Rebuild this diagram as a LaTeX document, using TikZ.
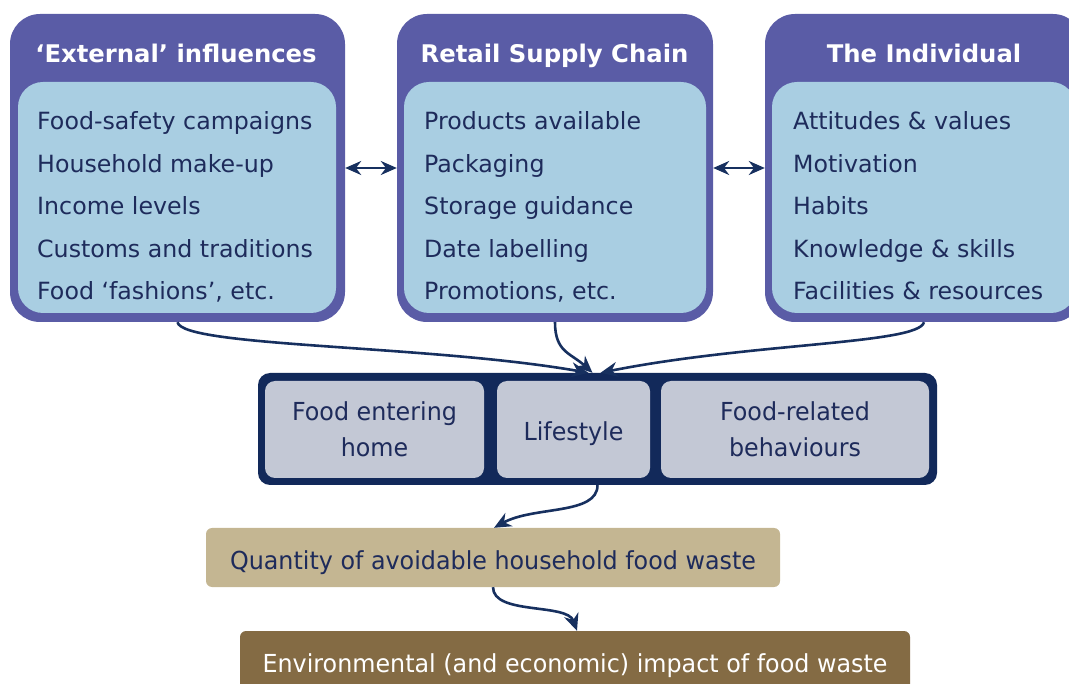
\documentclass[tikz,border=0pt]{standalone}
\usepackage{fontspec}
\setmainfont{DejaVu Sans}
\newfontfamily\tallfont[FakeStretch=0.96]{DejaVu Sans}
\usetikzlibrary{arrows.meta,positioning}

\definecolor{groupfill}{HTML}{5A5CA6}
\definecolor{listfill}{HTML}{A9CEE2}
\definecolor{linknavy}{HTML}{17305F}
\definecolor{bandnavy}{HTML}{12295A}
\definecolor{textnavy}{HTML}{1E2B5B}
\definecolor{factorfill}{HTML}{C3C8D5}
\definecolor{wastefill}{HTML}{C4B692}
\definecolor{impactfill}{HTML}{846B44}

\newcommand\lowered[2]{\raisebox{-#1}[\height][\depth]{#2}}

\tikzset{
  group/.style={fill=groupfill, rounded corners=30pt, minimum height=308pt, inner sep=0pt},
  listbox/.style={fill=listfill, rounded corners=25pt, minimum height=231pt, inner sep=0pt},
  grouptitle/.style={anchor=base, text=white, inner sep=0pt, font=\fontsize{24.3}{28}\selectfont\bfseries},
  item/.style={anchor=base west, text=textnavy, inner sep=0pt, font=\fontsize{23.7}{28}\selectfont},
  factor/.style={fill=factorfill, rounded corners=10pt, minimum height=97pt, inner sep=0pt, align=center, text=textnavy, font=\tallfont\fontsize{24.8}{36}\selectfont},
  outcome/.style={rounded corners=6pt, inner sep=0pt, font=\tallfont\fontsize{24.8}{28}\selectfont},
  link/.style={draw=linknavy, line width=2.6pt, -{Stealth[length=17pt,width=15pt]}},
  bothways/.style={link, {Stealth[length=16pt,width=14pt]}-{Stealth[length=16pt,width=14pt]}},
}

\begin{document}
\begin{tikzpicture}[x=1pt,y=-1pt]
  \useasboundingbox (0,0) rectangle (1069,684);
  \clip (0,0) rectangle (1069,684);

  % three groups of influences
  \node[group, minimum width=335pt] (ext) at (177.5,168) {};
  \node[group, minimum width=316pt] (ret) at (555,168) {};
  \node[group, minimum width=318pt] (ind) at (924,168) {};
  \node[listbox, minimum width=318pt] (ext-list) at (177,197.5) {};
  \node[listbox, minimum width=302pt] (ret-list) at (555,197.5) {};
  \node[listbox, minimum width=304pt] (ind-list) at (924,197.5) {};

  \node[grouptitle] (ext-title) at (176,63) {`External' influences};
  \node[grouptitle] (ret-title) at (554.5,63) {Retail Supply Chain};
  \node[grouptitle] (ind-title) at (924,63) {The Individual};

  \foreach \txt [count=\i from 0] in {Food-safety campaigns, Household make-up, Income levels, Customs and traditions, {Food `fashions', etc.}}
    \node[item] (ext-\i) at (37,130+42.4*\i) {\txt};
  \foreach \txt [count=\i from 0] in {Products available, Packaging, Storage guidance, Date labelling, {Promotions, etc.}}
    \node[item] (ret-\i) at (424,130+42.4*\i) {\txt};
  \foreach \txt [count=\i from 0] in {Attitudes \& values, Motivation, Habits, Knowledge \& skills, Facilities \& resources}
    \node[item] (ind-\i) at (793,130+42.4*\i) {\txt};

  \draw[bothways] (ext.east) -- (ret.west);
  \draw[bothways] (ret.east) -- (ind.west);

  % household band
  \node[fill=bandnavy, rounded corners=12pt, minimum width=679pt, minimum height=112pt, inner sep=0pt] (band) at (597.5,429) {};
  \node[factor, minimum width=219pt] (entering) at (374.5,429.5) {Food entering\\home};
  \node[factor, minimum width=153pt] (lifestyle) at (573.5,429.5) {\lowered{4pt}{Lifestyle}};
  \node[factor, minimum width=268pt] (behaviours) at (795,429.5) {Food-related\\behaviours};

  \draw[link] (ext.south) .. controls +(5,25) and +(-160,-28) .. ([xshift=-9pt]band.north);
  \draw[link] (ret.south) .. controls +(0,30) and +(-22,-20) .. ([xshift=-5pt]band.north);
  \draw[link] (ind.south) .. controls +(-5,22) and +(150,-30) .. ([xshift=3pt]band.north);

  % outcomes
  \node[outcome, fill=wastefill, text=textnavy, minimum width=574pt, minimum height=59pt] (waste) at (493,557.5) {\lowered{5pt}{Quantity of avoidable household food waste}};
  \node[outcome, fill=impactfill, text=white, minimum width=670pt, minimum height=66pt] (impact) at (575,664) {\lowered{2pt}{Environmental (and economic) impact of food waste}};

  \draw[link] (band.south) .. controls +(0,30) and +(40,-22) .. ([xshift=1pt]waste.north);
  \draw[link] (waste.south) .. controls +(0,28) and +(-10,-28) .. ([xshift=2pt]impact.north);
\end{tikzpicture}
\end{document}
